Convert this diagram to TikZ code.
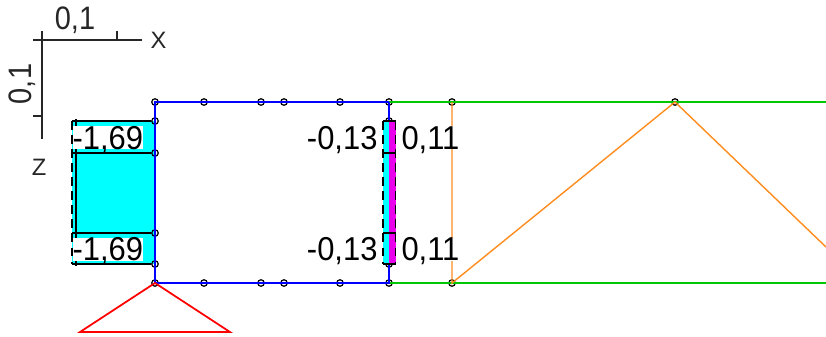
\documentclass[tikz,border=0pt]{standalone}
\usepackage{fontspec}
\setmainfont{Liberation Sans}
\definecolor{beamgreen}{RGB}{0,200,0}
\definecolor{trussorange}{RGB}{255,140,30}
\definecolor{barmagenta}{RGB}{235,0,235}
\definecolor{barcyan}{RGB}{0,255,255}
\definecolor{pureblue}{RGB}{0,0,255}
\definecolor{purered}{RGB}{255,0,0}
\tikzset{
  joint/.style={circle,draw=black,line width=.7pt,inner sep=0pt,minimum size=.13cm},
  value/.style={fill=white,inner sep=0pt,text height=.43cm,text depth=0pt,transform shape,yscale=1.07,font=\fontsize{17.6}{18}\selectfont},
  axislabel/.style={inner sep=0pt,text=black!85,transform shape,yscale=1.12,font=\fontsize{16.5}{18}\selectfont},
  axisname/.style={inner sep=0pt,text=black!85,font=\fontsize{13.5}{16}\selectfont},
  outline/.style={dash pattern=on 5pt off 3pt,line width=.7pt}
}
\begin{document}
\begin{tikzpicture}[x=.02cm,y=-.02cm,line width=.6pt]
\useasboundingbox (0,0) rectangle (826,336);
% scale axes
\coordinate (xa) at (33,40);
\coordinate (xb) at (142,40);
\coordinate (xc) at (117,31);
\coordinate (xd) at (117,40);
\coordinate (za) at (42,31);
\coordinate (zb) at (42,139);
\coordinate (zc) at (33,116);
\coordinate (zd) at (42,116);
\draw [black!85] (xa)--(xb) (xc)--(xd) (za)--(zb) (zc)--(zd);
\node[axislabel] (xscale) at (75,20) {0,1};
\node[rotate=90,axislabel] (zscale) at (22,84) {0,1};
\node[axisname] (xname) at (158.5,40.5) {X};
\node[axisname] (zname) at (39,167) {Z};
% left diagram
\fill [barcyan] (72,121) rectangle (155,264);
% joints of the frame
\node[joint] (t1) at (155,102) {};
\node[joint] (t2) at (204,102) {};
\node[joint] (t3) at (261,102) {};
\node[joint] (t4) at (284,102) {};
\node[joint] (t5) at (340,102) {};
\node[joint] (t6) at (389,102) {};
\node[joint] (t7) at (452,102) {};
\node[joint] (t8) at (675,102) {};
\node[joint] (b1) at (155,283) {};
\node[joint] (b2) at (204,283) {};
\node[joint] (b3) at (261,283) {};
\node[joint] (b4) at (284,283) {};
\node[joint] (b5) at (340,283) {};
\node[joint] (b6) at (389,283) {};
\node[joint] (b7) at (452,283) {};
\node[joint] (l1) at (155,121) {};
\node[joint] (l2) at (155,153) {};
\node[joint] (l3) at (155,233) {};
\node[joint] (l4) at (155,264) {};
\node[joint] (m1) at (389,121) {};
\node[joint] (m2) at (389,264) {};
\coordinate (tend) at (826,102);
\coordinate (bend) at (826,283);
\coordinate (send) at (826,247);
\coordinate (sl) at (80,332);
\coordinate (sr) at (230,332);
% members
\draw [beamgreen] (t6.center)--(tend);
\draw [beamgreen] (b6.center)--(bend);
\draw [trussorange,line width=.8pt] (t7.center)--(b7.center)--(t8.center)--(send);
\draw [pureblue,line width=.7pt] (t6.center)--(t1.center)--(b1.center)--(b6.center)--(t6.center);
\draw [purered,line width=1pt] (b1.center)--(sl)--(sr)--cycle;
% middle diagram
\fill [barcyan] (383,121) rectangle (389,264);
\fill [barmagenta] (389,121) rectangle (396,264);
% outlines of the diagrams
\draw [line width=.9pt] (l1.west)--(72,121) (l2.west)--(72,153) (l3.west)--(72,233) (l4.west)--(72,264);
\draw (76,119)--(76,266);
\draw [outline] (72,121)--(72,264);
\draw [line width=.9pt] (383,121)--(396,121) (383,153)--(396,153) (383,233)--(396,233) (383,264)--(396,264);
\draw [outline] (383,121)--(383,264) (395.5,121)--(395.5,264);
% values
\node[value,anchor=west] (v1) at (72,137.5) {-1,69};
\node[value,anchor=west] (v2) at (72,249) {-1,69};
\node[value,anchor=east] (v3) at (378,137.5) {-0,13};
\node[value,anchor=east] (v4) at (378,249) {-0,13};
\node[value,anchor=west] (v5) at (401,137.5) {0,11};
\node[value,anchor=west] (v6) at (401,249) {0,11};
\end{tikzpicture}
\end{document}
